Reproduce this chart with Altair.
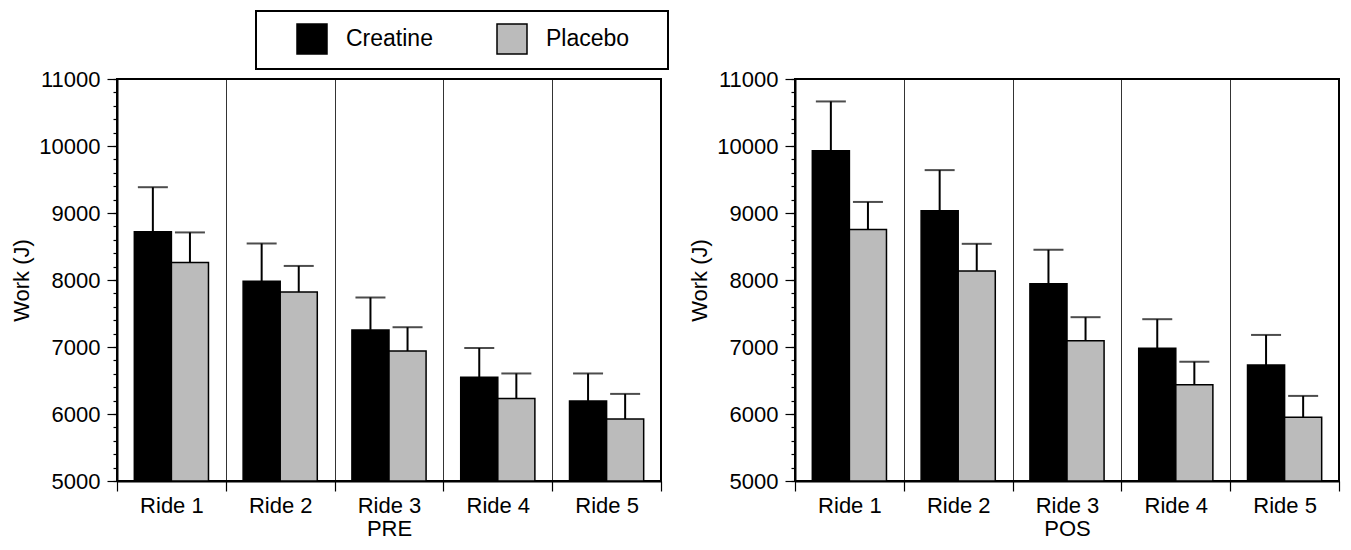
import altair as alt
import pandas as pd

rides = ["Ride 1", "Ride 2", "Ride 3", "Ride 4", "Ride 5"]
groups = ["Creatine", "Placebo"]

pre_creatine = [8720, 7980, 7255, 6550, 6195]
pre_creatine_sd = [665, 565, 485, 435, 410]
pre_placebo = [8260, 7820, 6940, 6230, 5925]
pre_placebo_sd = [450, 390, 355, 375, 375]

pos_creatine = [9930, 9035, 7945, 6980, 6730]
pos_creatine_sd = [735, 605, 505, 435, 450]
pos_placebo = [8755, 8135, 7095, 6435, 5950]
pos_placebo_sd = [410, 405, 350, 345, 320]

major_ticks = list(range(5000, 11001, 1000))
minor_ticks = list(range(5000, 11001, 200))

rows = []
for phase, c, cs, p, ps in [
    ("PRE", pre_creatine, pre_creatine_sd, pre_placebo, pre_placebo_sd),
    ("POS", pos_creatine, pos_creatine_sd, pos_placebo, pos_placebo_sd),
]:
    for i, r in enumerate(rides):
        rows.append(dict(phase=phase, ride=r, group="Creatine", work=c[i], upper=c[i] + cs[i]))
        rows.append(dict(phase=phase, ride=r, group="Placebo", work=p[i], upper=p[i] + ps[i]))
df = pd.DataFrame(rows)

FONT = "Liberation Sans"
FS = 22

color = alt.Color(
    "group:N",
    scale=alt.Scale(domain=groups, range=["#000000", "#bbbbbb"]),
    legend=alt.Legend(
        title=" ", titleOrient="right", titleFontSize=1, titlePadding=27,
        orient="none", direction="horizontal",
        legendX=139, legendY=-68,
        symbolType="square", symbolSize=900, symbolStrokeColor="black",
        symbolStrokeWidth=1.5, symbolOpacity=1, symbolOffset=28,
        labelFont=FONT, labelFontSize=23, labelColor="black", labelOffset=18,
        columnPadding=35, padding=12, strokeColor="black", fillColor="white",
    ),
)


def panel(phase):
    base = alt.Chart(df).transform_filter(alt.datum.phase == phase)
    x = alt.X(
        "ride:N", sort=rides,
        scale=alt.Scale(domain=rides, paddingInner=0, paddingOuter=0),
        axis=alt.Axis(title=phase, tickBand="extent", grid=True, labelAngle=0),
    )
    xo = alt.XOffset("group:N", scale=alt.Scale(domain=groups, paddingInner=0, paddingOuter=0.467))
    yscale = alt.Scale(domain=[5000, 11000], nice=False, zero=False)
    bars = base.mark_bar(stroke="black", strokeWidth=1.5).encode(
        x=x, xOffset=xo,
        y=alt.Y("work:Q", scale=yscale,
                axis=alt.Axis(title="Work (J)", values=major_ticks, format="d",
                              tickSize=10, grid=False)),
        y2=alt.datum(5000),
        color=color,
    )
    err = base.mark_rule(color="black", strokeWidth=2).encode(
        x=x, xOffset=xo,
        y=alt.Y("work:Q", scale=yscale,
                axis=alt.Axis(title=None, values=minor_ticks, labels=False,
                              domain=False, tickSize=4, orient="left", grid=False)),
        y2="upper:Q",
    )
    caps = base.mark_tick(orient="horizontal", size=30, thickness=2, color="black").encode(
        x=x, xOffset=xo,
        y=alt.Y("upper:Q", scale=yscale, axis=None),
    )
    return (
        alt.layer(bars, err, caps)
        .resolve_axis(y="independent")
        .properties(width=544, height=402)
    )


chart = (
    alt.hconcat(panel("PRE"), panel("POS"), spacing=24)
    .properties(padding={"left": 1, "top": 2, "right": 0, "bottom": 0})
    .configure_view(stroke="black", strokeWidth=2)
    .configure_axis(
        labelFont=FONT, titleFont=FONT, labelFontSize=FS, titleFontSize=FS,
        labelColor="black", titleColor="black", tickColor="black",
        domainColor="black", gridColor="black", titleFontWeight="normal",
        domainWidth=2, tickWidth=1.2, gridWidth=0.8,
    )
    .configure_axisX(labelPadding=4, titlePadding=2, tickSize=10)
    .configure_axisY(labelPadding=7, titlePadding=5)
    .configure_legend(strokeWidth=2)
)

chart.save("out.html", embed_options={"renderer": "svg", "actions": False})
